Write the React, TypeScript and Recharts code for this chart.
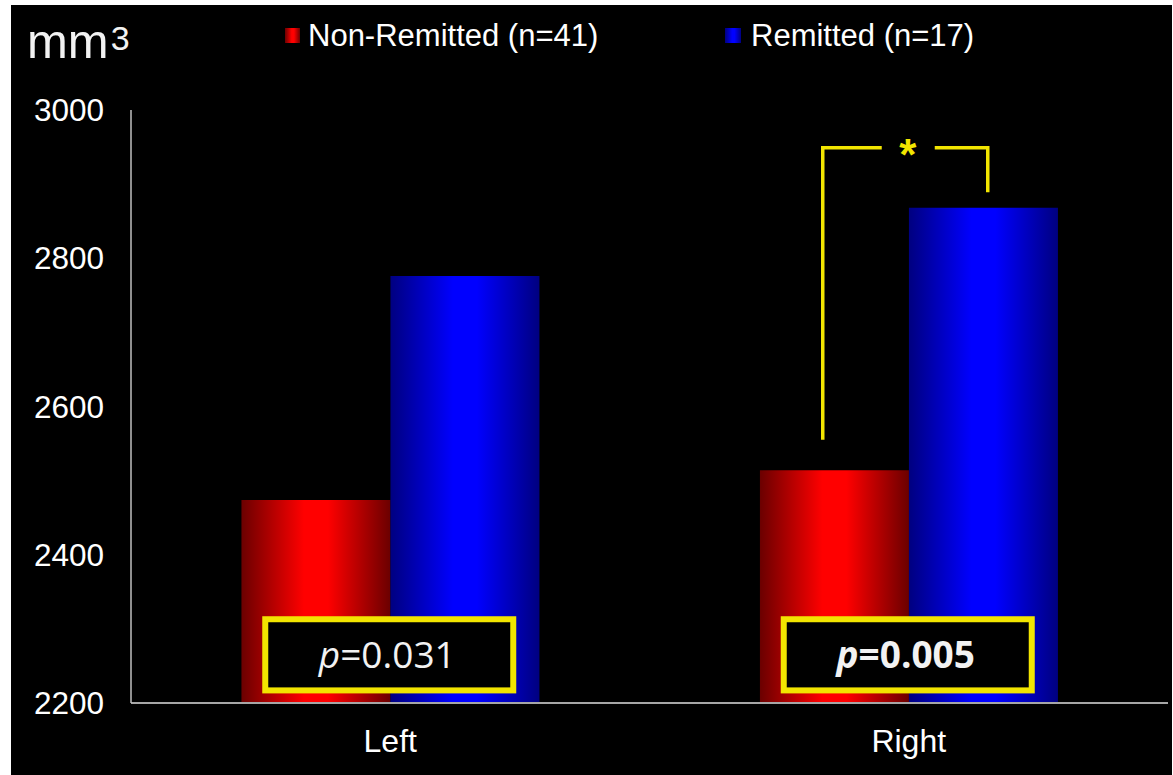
import React from 'react';
import { BarChart, Bar, XAxis, YAxis, Legend, ReferenceLine } from 'recharts';

const sides = ['Left', 'Right'];
const nonRemitted = [2474, 2514];
const remitted = [2776, 2868];
const yTicks = [2200, 2400, 2600, 2800, 3000];
const seriesNames = ['Non-Remitted (n=41)', 'Remitted (n=17)'];
const pValues = ['0.031', '0.005'];

const data = sides.map((side, i) => ({ side, nonRemitted: nonRemitted[i], remitted: remitted[i] }));

const Y_MIN = 2200;
const Y_MAX = 3000;
const YELLOW = '#f2e500';
const SANS = '"Liberation Sans", Arial, sans-serif';

// legend with the same gradient swatches as the bars
const LegendContent = () => (
  <div style={{ position: 'relative', width: 1161, height: 60, fontFamily: SANS, fontSize: 31, color: '#fff' }}>
    <div style={{ position: 'absolute', left: 274, top: 23, width: 15, height: 15, background: 'linear-gradient(to right, #6b0000, #ff0000 45%, #ff0000 60%, #6b0000)' }} />
    <div style={{ position: 'absolute', left: 297, top: 13, lineHeight: '36px', whiteSpace: 'nowrap' }}>{seriesNames[0]}</div>
    <div style={{ position: 'absolute', left: 714, top: 23, width: 16, height: 15, background: 'linear-gradient(to right, #000080, #0000ff 45%, #0000ff 60%, #000080)' }} />
    <div style={{ position: 'absolute', left: 740, top: 13, lineHeight: '36px', whiteSpace: 'nowrap' }}>{seriesNames[1]}</div>
  </div>
);

// maps a value to pixels inside the plot box handed to a reference line label
const valueToY = (vb: any, v: number) => vb.y + ((Y_MAX - v) / (Y_MAX - Y_MIN)) * vb.height;

// yellow p-value box centred on the category
const pBox = (value: string, bold: boolean) => (props: any) => {
  const vb = props.viewBox;
  const cx = vb.x;
  const top = valueToY(vb, 2313);
  const bottom = valueToY(vb, 2217);
  return (
    <g>
      <rect x={cx - 125} y={top} width={248} height={bottom - top} fill="#000" stroke={YELLOW} strokeWidth={6} />
      <text
        x={cx - 3}
        y={(top + bottom) / 2 + 13}
        textAnchor="middle"
        fill="#f2f2f2"
        fontSize={37}
        fontFamily='"Open Sans", sans-serif'
        fontWeight={bold ? 700 : 400}
      >
        <tspan fontStyle="italic">p</tspan>={value}
      </text>
    </g>
  );
};

// significance bracket over the Right pair
const bracketTop = 2949;
const bracketLeftBottom = 2555;
const bracketRightBottom = 2889;
const Bracket = (props: any) => {
  const vb = props.viewBox;
  const cx = vb.x;
  const yTop = valueToY(vb, bracketTop);
  const yL = valueToY(vb, bracketLeftBottom);
  const yR = valueToY(vb, bracketRightBottom);
  const style = { fill: 'none', stroke: YELLOW, strokeWidth: 3.5 };
  return (
    <g>
      <polyline points={`${cx - 86},${yL} ${cx - 86},${yTop} ${cx - 27},${yTop}`} {...style} />
      <polyline points={`${cx + 26},${yTop} ${cx + 79},${yTop} ${cx + 79},${yR}`} {...style} />
      <text x={cx - 1} y={yTop + 22} textAnchor="middle" fill={YELLOW} fontSize={44} fontWeight={700} fontFamily={SANS}>*</text>
    </g>
  );
};

export default function App() {
  return (
    <div style={{ position: 'absolute', left: 11, top: 5, width: 1161, height: 770, background: '#000' }}>
      <div style={{ position: 'absolute', left: 16, top: 8, fontFamily: SANS, fontSize: 49, color: '#f2f2f2', lineHeight: '56px', whiteSpace: 'nowrap' }}>
        mm<span style={{ fontSize: 34, position: 'relative', top: -8, marginLeft: 2 }}>3</span>
      </div>
      <BarChart
        width={1161}
        height={770}
        data={data}
        margin={{ top: 45, right: 4, left: 20, bottom: 0 }}
        barGap={0}
        barCategoryGap="21.3%"
      >
        <defs>
          <linearGradient id="redGrad" x1="0" y1="0" x2="1" y2="0">
            <stop offset="0%" stopColor="#6b0000" />
            <stop offset="42%" stopColor="#ff0000" />
            <stop offset="58%" stopColor="#ff0000" />
            <stop offset="100%" stopColor="#6b0000" />
          </linearGradient>
          <linearGradient id="blueGrad" x1="0" y1="0" x2="1" y2="0">
            <stop offset="0%" stopColor="#000080" />
            <stop offset="42%" stopColor="#0000ff" />
            <stop offset="58%" stopColor="#0000ff" />
            <stop offset="100%" stopColor="#000080" />
          </linearGradient>
        </defs>
        <XAxis
          dataKey="side"
          height={72}
          axisLine={{ stroke: '#a6a6a6', strokeWidth: 2 }}
          tickLine={false}
          tickSize={6}
          tickMargin={20}
          tick={{ fill: '#fff', fontSize: 32, fontFamily: SANS }}
        />
        <YAxis
          width={100}
          domain={[Y_MIN, Y_MAX]}
          ticks={yTicks}
          allowDataOverflow
          axisLine={{ stroke: '#bfbfbf', strokeWidth: 1.5 }}
          tickLine={false}
          tickSize={6}
          tickMargin={21}
          tick={{ fill: '#fff', fontSize: 31.5, fontFamily: SANS }}
        />
        <Legend verticalAlign="top" content={<LegendContent />} wrapperStyle={{ top: 0, left: 0, width: 1161, height: 60 }} />
        <Bar dataKey="nonRemitted" name={seriesNames[0]} fill="url(#redGrad)" isAnimationActive={false} />
        <Bar dataKey="remitted" name={seriesNames[1]} fill="url(#blueGrad)" isAnimationActive={false} />
        <ReferenceLine x="Left" stroke="none" label={{ content: pBox(pValues[0], false) }} />
        <ReferenceLine x="Right" stroke="none" label={{ content: pBox(pValues[1], true) }} />
        <ReferenceLine x="Right" stroke="none" label={{ content: Bracket }} />
      </BarChart>
    </div>
  );
}
